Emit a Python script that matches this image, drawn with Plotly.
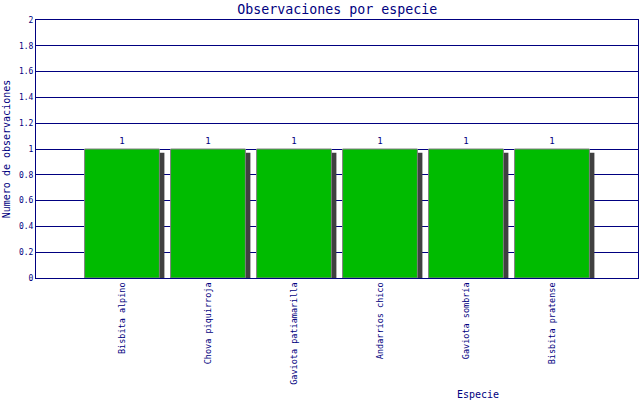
import plotly.graph_objects as go

especies = ["Bisbita alpino", "Chova piquirroja", "Gaviota patiamarilla",
            "Andarríos chico", "Gaviota sombría", "Bisbita pratense"]
observaciones = [1, 1, 1, 1, 1, 1]
y_ticks = [0, 0.2, 0.4, 0.6, 0.8, 1, 1.2, 1.4, 1.6, 1.8, 2]

NAVY = "#000080"
FONT = "DejaVu Sans Mono"
BW = 0.87
SHADOW_DX = 0.058
SHADOW_DY = 0.03

fig = go.Figure()
fig.add_trace(go.Bar(
    x=especies, y=[v - SHADOW_DY for v in observaciones],
    width=BW, offset=-BW / 2 + SHADOW_DX,
    marker=dict(color="#404040", line=dict(width=0)),
    hoverinfo="skip", showlegend=False,
))
fig.add_trace(go.Bar(
    x=especies, y=observaciones,
    width=BW, offset=-BW / 2,
    marker=dict(color="#00BB00", line=dict(color="#808080", width=1)),
    text=[str(v) for v in observaciones], textposition="outside",
    textfont=dict(family=FONT, size=9, color=NAVY),
    cliponaxis=False, showlegend=False,
))

fig.update_layout(
    width=640, height=400, barmode="overlay",
    margin=dict(l=36, r=2, t=20, b=122, autoexpand=False),
    paper_bgcolor="white", plot_bgcolor="white",
    font=dict(family=FONT, color=NAVY),
    title=dict(text="Observaciones por especie", x=0.527, xanchor="center",
               y=0.977, yanchor="middle", automargin=False,
               font=dict(family=FONT, size=13.3, color=NAVY)),
    xaxis=dict(type="category", range=[-1, 6], showgrid=False, automargin=False,
               tickangle=-90, tickfont=dict(family=FONT, size=8.5, color=NAVY),
               showline=True, linecolor=NAVY, linewidth=1, mirror=True,
               ticks="", ticklen=0),
    yaxis=dict(range=[0, 2], tickvals=y_ticks, ticktext=[f"{t:g}" for t in y_ticks],
               showgrid=True, gridcolor=NAVY, gridwidth=1, automargin=False,
               showline=True, linecolor=NAVY, linewidth=1, mirror=True,
               zeroline=False, ticks="", ticklen=0,
               tickfont=dict(family=FONT, size=8, color=NAVY),
               title=dict(text="Numero de observaciones", standoff=6,
                          font=dict(family=FONT, size=10, color=NAVY))),
    annotations=[dict(text="Especie", xref="paper", yref="paper", x=0.735, y=-0.45,
                      xanchor="center", yanchor="middle", showarrow=False,
                      font=dict(family=FONT, size=10, color=NAVY))],
)

fig.write_html("out.html", config={"displayModeBar": False},
               post_script="document.body.style.margin='0';document.body.style.padding='0';")
